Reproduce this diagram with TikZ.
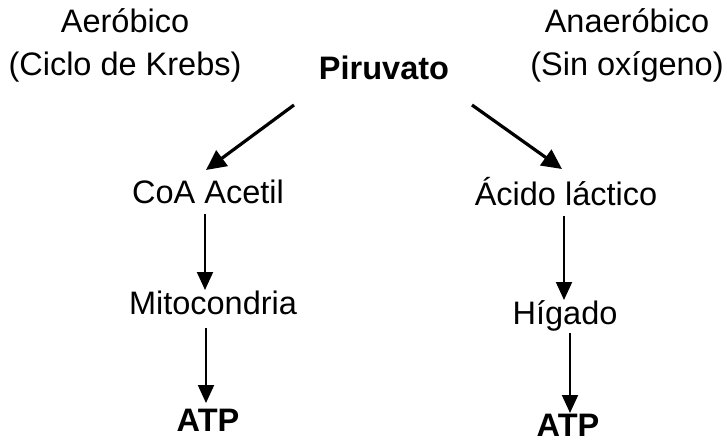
\documentclass[tikz,border=0pt]{standalone}
\usepackage{fontspec}
\setmainfont{Liberation Sans}
\usetikzlibrary{arrows.meta}
\begin{document}
\begin{tikzpicture}[x=1pt,y=-1pt,
  lbl/.style={font=\fontsize{32.5}{43}\selectfont, inner sep=0pt, align=center},
  blbl/.style={font=\fontsize{32.5}{43}\selectfont\bfseries, inner sep=0pt},
  thick arr/.style={line width=3.2pt, -{Triangle[length=20pt,width=19pt]}},
  thin arr/.style={line width=2pt, -{Triangle[length=18pt,width=16pt]}}]
\useasboundingbox (0,0) rectangle (727,444);
\fill[white] (0,0) rectangle (727,444);
\node[lbl] (aer) at (125,45) {Aeróbico\\(Ciclo de Krebs)};
\node[blbl] (piru) at (384,68) {Piruvato};
\node[lbl] (ana) at (627,45) {Anaeróbico\\(Sin oxígeno)};
\node[lbl] (coa) at (208,192) {CoA Acetil};
\node[lbl] (acl) at (566,192) {Ácido láctico};
\node[lbl] (mit) at (213,303) {Mitocondria};
\node[lbl] (hig) at (565,316) {Hígado};
\node[blbl] (atp1) at (208,420) {ATP};
\node[blbl] (atp2) at (568,425) {ATP};
\coordinate (l1s) at (294,105);
\coordinate (l1e) at (206,170);
\coordinate (r1s) at (472,105);
\coordinate (r1e) at (562,169);
\coordinate (l2s) at (205,214);
\coordinate (l2e) at (205,290);
\coordinate (r2s) at (564,216);
\coordinate (r2e) at (564,300);
\coordinate (l3s) at (206,328);
\coordinate (l3e) at (206,403);
\coordinate (r3s) at (570,333);
\coordinate (r3e) at (570,413);
\draw[thick arr] (l1s) -- (l1e);
\draw[thick arr] (r1s) -- (r1e);
\draw[thin arr] (l2s) -- (l2e);
\draw[thin arr] (r2s) -- (r2e);
\draw[thin arr] (l3s) -- (l3e);
\draw[thin arr] (r3s) -- (r3e);
\end{tikzpicture}
\end{document}
